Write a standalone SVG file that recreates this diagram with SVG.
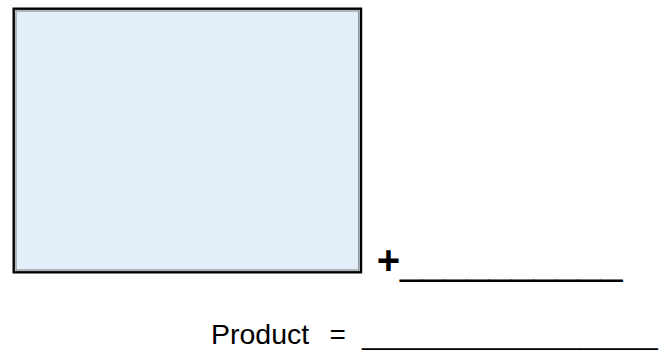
<svg xmlns="http://www.w3.org/2000/svg" width="665" height="354" viewBox="0 0 665 354">
<style>
.t{font-family:"Liberation Sans",Arial,sans-serif;fill:#000}
</style>
<rect width="665" height="354" fill="#fff"/>
<g id="box">
<rect x="13.7" y="8.7" width="347.3" height="263.6" fill="#e3eef8" stroke="#000" stroke-width="2.4"/>
<rect x="16" y="11" width="342.7" height="259" fill="none" stroke="#8a8f96" stroke-width="1.2"/>
</g>
<g id="plus-line">
<text class="t" x="376.7" y="274" font-size="40"><tspan font-weight="bold">+</tspan>__________</text>
</g>
<g id="product-line">
<text class="t" x="211" y="344" font-size="28.5">Product</text>
<text class="t" x="329.4" y="344" font-size="28">=</text>
<text class="t" x="362" y="344" font-size="28">___________________</text>
</g>
</svg>
